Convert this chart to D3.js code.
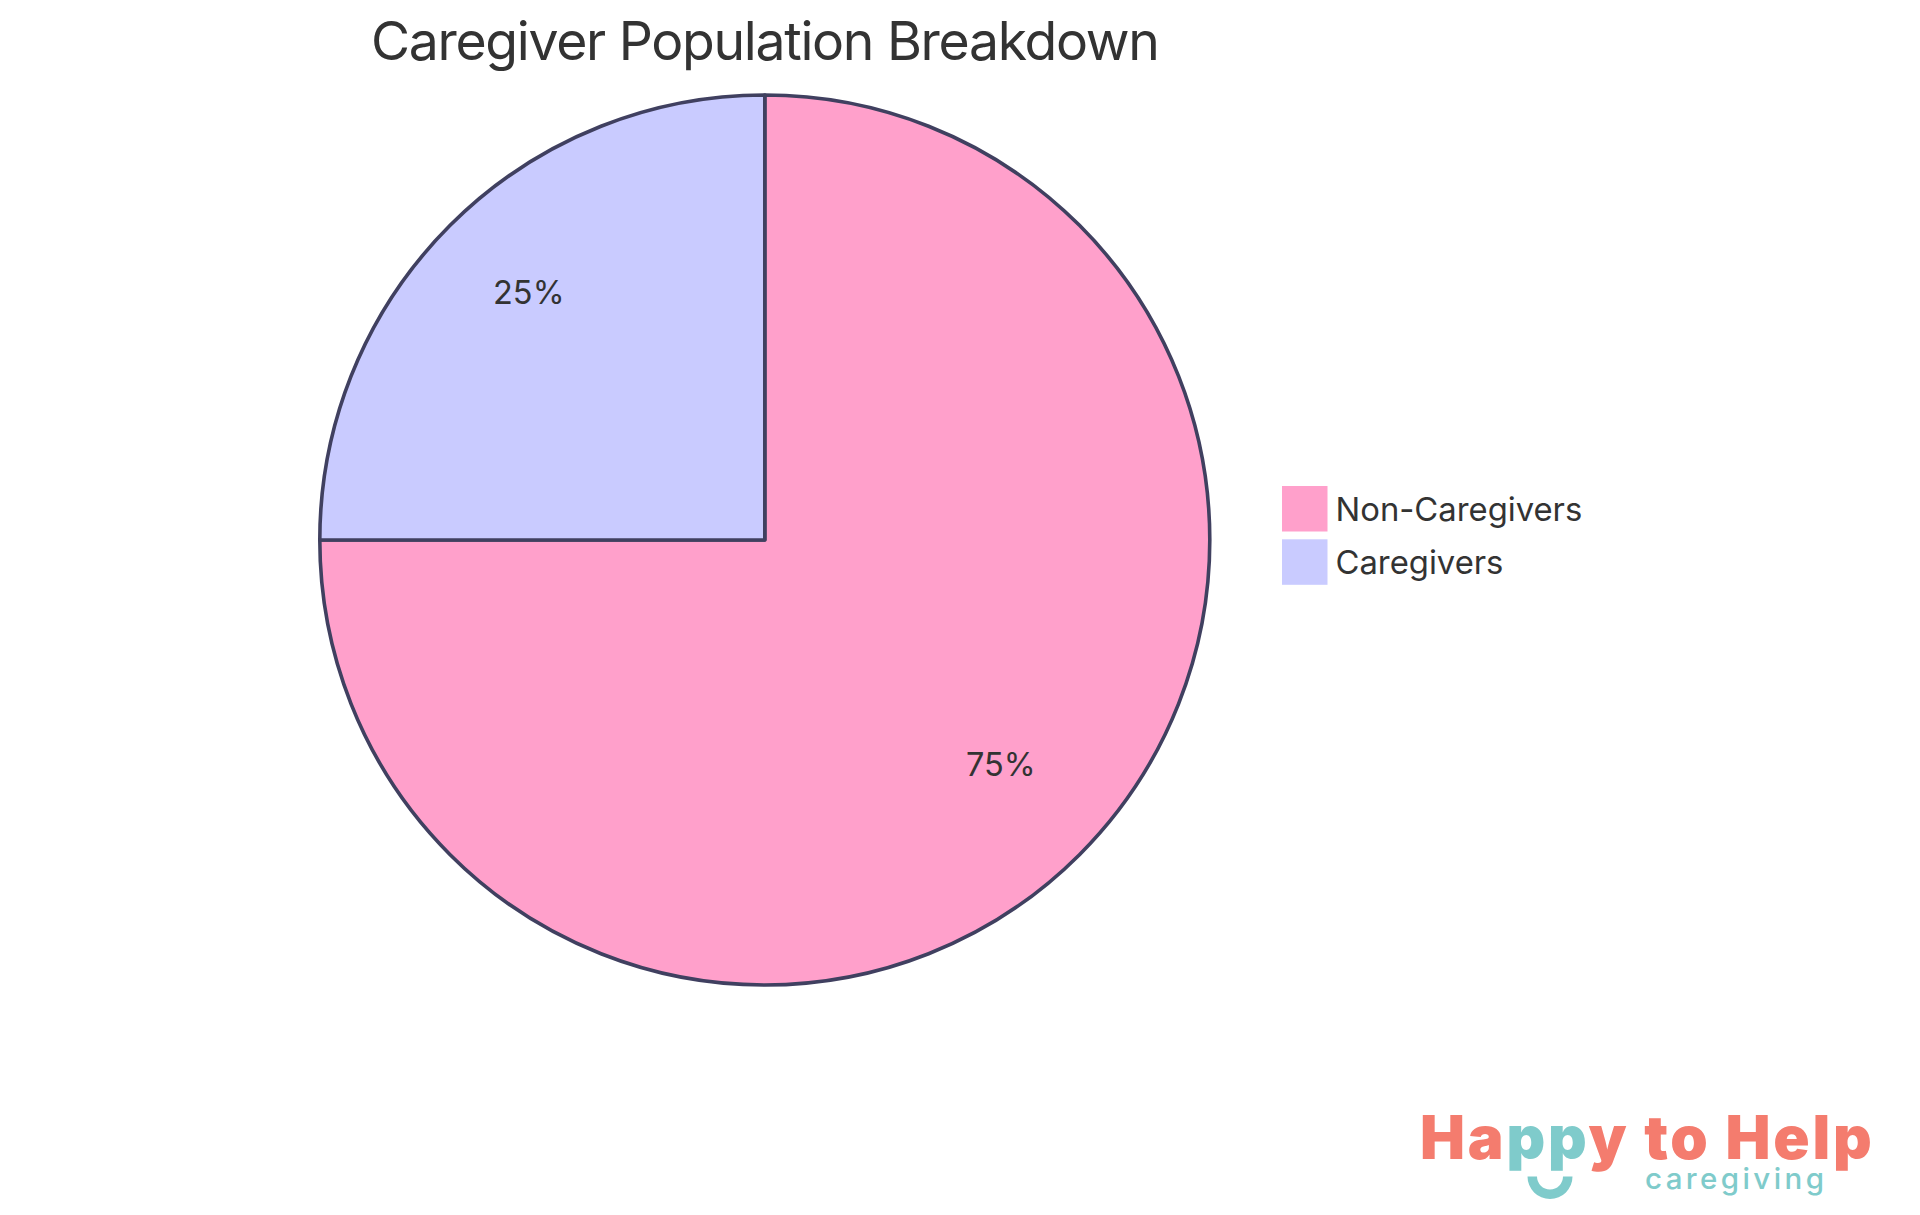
<!DOCTYPE html>
<html>
<head>
<meta charset="utf-8">
<script src="https://cdn.jsdelivr.net/npm/d3@7"></script>
<style>
	html, body { margin: 0; padding: 0; background: #fff; }
	svg { display: block; }
	text { font-family: Inter, "Noto Sans", sans-serif; fill: #333; }
</style>
</head>
<body>
<svg class="mainSvg" width="1920" height="1215"></svg>
<script>
const chartTitle = "Caregiver Population Breakdown";
const categories = ["Non-Caregivers", "Caregivers"];
const values = [75, 25];
const sliceColors = ["#FFA0CB", "#C9CBFF"];
const logoWords = ["Ha", "pp", "y to Help"];
const logoTagline = "caregiving";

const svg = d3.select(".mainSvg");
const centerX = 764.8, centerY = 540, radius = 445;

//Title
svg.append("text")
	.attr("x", centerX)
	.attr("y", 60)
	.attr("text-anchor", "middle")
	.attr("font-size", 53.5)
	.attr("font-weight", 400)
	.attr("letter-spacing", -1.3)
	.text(chartTitle);

//Pie
const pie = d3.pie().sort(null).value(function(d){ return d; });
const arc = d3.arc().innerRadius(0).outerRadius(radius);
const labelArc = d3.arc().innerRadius(radius * .75).outerRadius(radius * .75);
const color = d3.scaleOrdinal().domain(categories).range(sliceColors);
const total = d3.sum(values);

const pieGroup = svg.append("g")
	.attr("transform", "translate(" + centerX + "," + centerY + ")");

pieGroup.selectAll(".slice").data(pie(values))
	.enter()
	.append("path")
	.classed("slice", true)
	.attr("d", arc)
	.attr("fill", function(d, i){ return color(categories[i]); })
	.attr("stroke", "#404060")
	.attr("stroke-width", 3.6)
	.attr("stroke-linejoin", "round");

pieGroup.selectAll(".sliceLabel").data(pie(values))
	.enter()
	.append("text")
	.classed("sliceLabel", true)
	.attr("transform", function(d){ return "translate(" + labelArc.centroid(d) + ")"; })
	.attr("text-anchor", "middle")
	.attr("font-size", 32.5)
	.text(function(d){ return Math.round(d.value / total * 100) + "%"; });

//Legend
const legendX = 1282, legendY = 486, swatchSize = 45.5, legendStep = 53.3;
const legend = svg.selectAll(".legendItem").data(categories)
	.enter()
	.append("g")
	.classed("legendItem", true)
	.attr("transform", function(d, i){ return "translate(" + legendX + "," + (legendY + i * legendStep) + ")"; });

legend.append("rect")
	.attr("width", swatchSize)
	.attr("height", swatchSize)
	.attr("fill", function(d){ return color(d); });

legend.append("text")
	.attr("x", 53.5)
	.attr("y", swatchSize / 2)
	.attr("dy", "0.37em")
	.attr("font-size", 32.8)
	.text(function(d){ return d; });

//Logo
const logo = svg.append("g");
const logoText = logo.append("text")
	.attr("x", 1420)
	.attr("y", 1159)
	.attr("font-size", 60)
	.attr("font-weight", 900)
	.attr("letter-spacing", 2.8)
	.style("fill", "#F47C6E");

logoText.selectAll("tspan").data(logoWords)
	.enter()
	.append("tspan")
	.style("fill", function(d, i){ return i === 1 ? "#7FCBCB" : "#F47C6E"; })
	.text(function(d){ return d; });

logo.append("text")
	.attr("x", 1645)
	.attr("y", 1189)
	.attr("font-size", 29.5)
	.attr("font-weight", 500)
	.attr("letter-spacing", 3.4)
	.style("fill", "#7FCBCB")
	.text(logoTagline);

logo.append("path")
	.attr("transform", "translate(1550,1176.5)")
	.attr("d", d3.arc().innerRadius(13).outerRadius(22.5).startAngle(Math.PI / 2).endAngle(Math.PI * 1.5)())
	.attr("fill", "#7FCBCB");
</script>
</body>
</html>
